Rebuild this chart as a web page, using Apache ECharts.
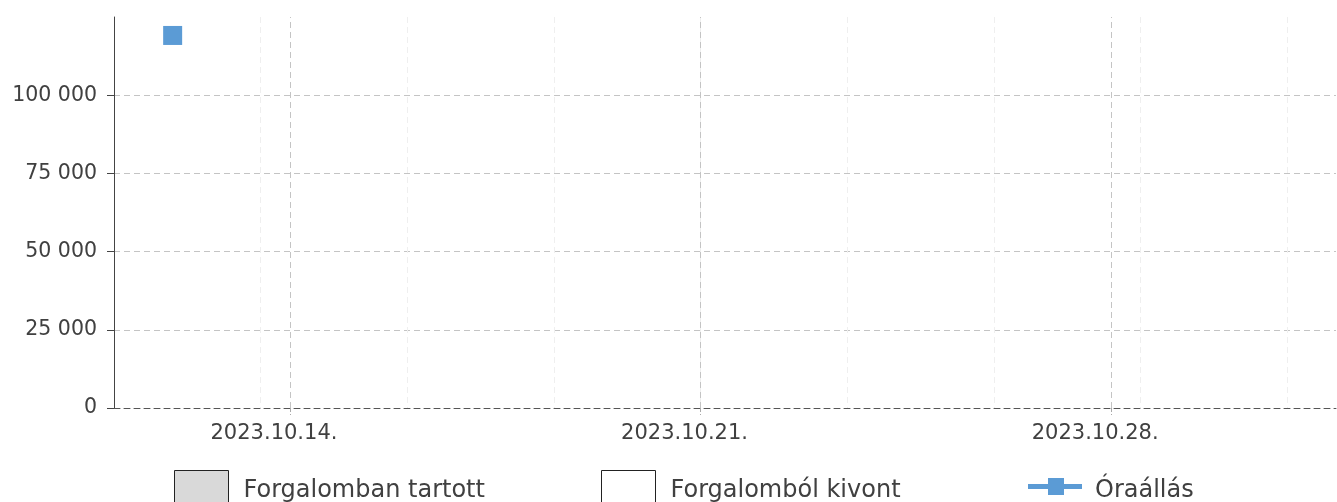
<!DOCTYPE html>
<html>
<head>
<meta charset="utf-8">
<script src="https://cdn.jsdelivr.net/npm/echarts@6/dist/echarts.min.js"></script>
<style>
html,body{margin:0;padding:0;background:#fff;}
#chart{width:1337px;height:502px;}
</style>
</head>
<body>
<div id="chart"></div>
<script>
// ---- data ----
const startDate = '2023-10-11';
const endDate = '2023-10-31T20:00:00';
const dates = ['2023-10-12'];
const odometer = [119100];
const inService = [];
const withdrawn = [];
const tickDates = ['2023-10-14', '2023-10-21', '2023-10-28'];
const tickLabels = ['2023.10.14.', '2023.10.21.', '2023.10.28.'];
const yTicks = [0, 25000, 50000, 75000, 100000];
const seriesNames = ['Forgalomban tartott', 'Forgalomból kivont', 'Óraállás'];

const DAY = 86400000;
function toUTC(d) { return Date.parse(d.length <= 10 ? d + 'T00:00:00Z' : d + 'Z'); }
function dayOffset(d) { return (toUTC(d) - toUTC(startDate)) / DAY; }
const tickOffsets = tickDates.map(dayOffset);
const xMax = dayOffset(endDate);

function fmtThousands(v) {
  return String(v).replace(/\B(?=(\d{3})+(?!\d))/g, ' ');
}

const textColor = '#404040';
const font = 'DejaVu Sans';
const gridColor = '#c4c4c4';
// legend icon for the line series: a thick line with a square marker (box 54 x 41)
const lineIcon = 'path://M0,0L0.01,0L0,0.01Z M54,41L53.99,41L54,40.99Z M0,14L54,14L54,19L0,19Z M20,8L36,8L36,25L20,25Z';

const chart = echarts.init(document.getElementById('chart'), null, { renderer: 'canvas' });
chart.setOption({
  animation: false,
  backgroundColor: '#ffffff',
  grid: { left: 114, right: 1, top: 17, bottom: 94, containLabel: false },
  xAxis: [
    {
      type: 'value',
      min: 0,
      max: xMax,
      axisLine: { show: true, lineStyle: { color: '#555555', width: 1, type: [6, 4] } },
      axisTick: { show: true, customValues: tickOffsets, length: 7, lineStyle: { color: '#aaaaaa', type: 'dashed' } },
      axisLabel: {
        show: true,
        customValues: tickOffsets,
        margin: 15,
        color: textColor,
        fontFamily: font,
        fontSize: 21,
        padding: [0, 32, 0, 0],
        formatter: function (v) {
          const i = tickOffsets.findIndex(t => Math.abs(t - v) < 1e-6);
          return i >= 0 ? tickLabels[i] : '';
        }
      },
      splitLine: { show: false }
    },
    {
      type: 'value',
      min: 0,
      max: xMax,
      interval: 2.5,
      position: 'bottom',
      axisLine: { show: false },
      axisTick: { show: false },
      axisLabel: { show: false },
      splitLine: { show: true, showMinLine: false, showMaxLine: false, lineStyle: { color: '#efefef', type: [6, 4], width: 1 } }
    }
  ],
  yAxis: {
    type: 'value',
    min: 0,
    max: 125000,
    interval: 25000,
    axisLine: { show: true, lineStyle: { color: '#444444', width: 1 } },
    axisTick: { show: true, length: 7, lineStyle: { color: '#444444' } },
    axisLabel: {
      margin: 17,
      color: textColor,
      fontFamily: font,
      fontSize: 20.5,
      showMaxLabel: false,
      formatter: function (v) { return yTicks.indexOf(v) >= 0 ? fmtThousands(v) : ''; }
    },
    splitLine: { show: true, showMinLine: false, showMaxLine: false, lineStyle: { color: gridColor, type: [6, 4], width: 1 } }
  },
  legend: [
    {
      data: [seriesNames[0]],
      left: 174, top: 470, padding: 0,
      itemWidth: 54, itemHeight: 41,
      icon: 'rect',
      itemStyle: { borderColor: '#222222', borderWidth: 1 },
      textStyle: { color: textColor, fontFamily: font, fontSize: 24, padding: [0, 0, 0, 10] }
    },
    {
      data: [seriesNames[1]],
      left: 601, top: 470, padding: 0,
      itemWidth: 54, itemHeight: 41,
      icon: 'rect',
      itemStyle: { borderColor: '#222222', borderWidth: 1 },
      textStyle: { color: textColor, fontFamily: font, fontSize: 24, padding: [0, 0, 0, 10] }
    },
    {
      data: [seriesNames[2]],
      left: 1028, top: 470, padding: 0,
      itemWidth: 54, itemHeight: 41,
      icon: lineIcon,
      itemStyle: { color: '#5b9bd5', borderWidth: 0 },
      textStyle: { color: textColor, fontFamily: font, fontSize: 24, padding: [0, 0, 0, 8] }
    }
  ],
  series: [
    {
      name: seriesNames[0], type: 'bar', xAxisIndex: 0,
      itemStyle: { color: '#d9d9d9', borderColor: '#222222', borderWidth: 1 },
      data: inService.map(p => p)
    },
    {
      name: seriesNames[1], type: 'bar', xAxisIndex: 0,
      itemStyle: { color: '#ffffff', borderColor: '#222222', borderWidth: 1 },
      data: withdrawn.map(p => p)
    },
    {
      name: seriesNames[2], type: 'line', xAxisIndex: 0,
      symbol: 'rect', symbolSize: 19,
      itemStyle: { color: '#5b9bd5' },
      lineStyle: { color: '#5b9bd5', width: 5 },
      z: 5,
      markLine: {
        silent: true,
        symbol: ['none', 'none'],
        label: { show: false },
        lineStyle: { color: gridColor, type: [6, 4], width: 1 },
        emphasis: { disabled: true },
        z: 1,
        data: tickOffsets.map(v => ({ xAxis: v }))
      },
      data: dates.map((d, i) => [dayOffset(d), odometer[i]])
    }
  ]
});
</script>
</body>
</html>
